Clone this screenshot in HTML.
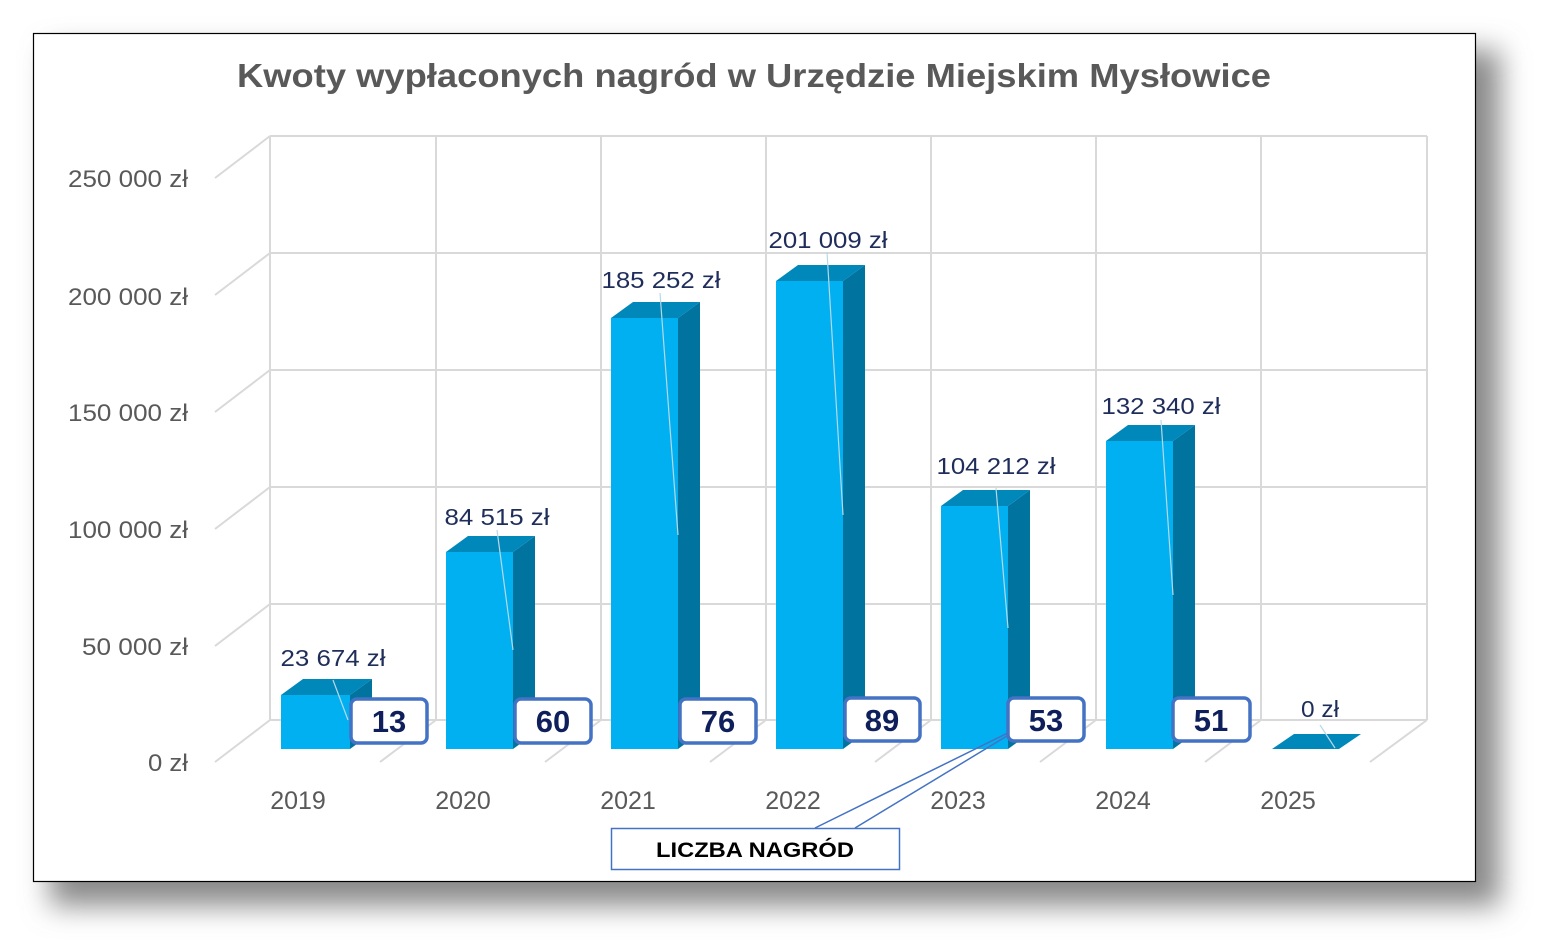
<!DOCTYPE html>
<html><head><meta charset="utf-8"><style>html,body{margin:0;padding:0;background:#fff;}svg{display:block}</style></head>
<body>
<svg width="1542" height="948" viewBox="0 0 1542 948" xmlns="http://www.w3.org/2000/svg" font-family="'Liberation Sans', sans-serif">
<defs>
<filter id="sh" x="-5%" y="-5%" width="115%" height="120%"><feGaussianBlur stdDeviation="14"/></filter>
</defs>
<rect x="50" y="50" width="1450" height="856" fill="#8a8a8a" filter="url(#sh)"/>
<rect x="33.5" y="33.5" width="1442" height="848" fill="#fff" stroke="#000" stroke-width="1.2"/>
<text x="754" y="87" text-anchor="middle" font-size="33" font-weight="bold" fill="#595959" textLength="1034" lengthAdjust="spacingAndGlyphs">Kwoty wypłaconych nagród w Urzędzie Miejskim Mysłowice</text>
<g stroke="#d9d9d9" stroke-width="2" fill="none">
<path d="M270 136H1427M270 253H1427M270 370H1427M270 487H1427M270 604H1427M270 720H1427"/>
<path d="M270 136V720M436 136V720M601 136V720M766 136V720M931 136V720M1096 136V720M1261 136V720M1427 136V720"/>
<path d="M270 136L215 178M270 253L215 295M270 370L215 412M270 487L215 529M270 604L215 646M270 720L215 762"/>
<path d="M436 720L380 762M601 720L545 762M766 720L710 762M931 720L875 762M1096 720L1040 762M1261 720L1205 762M1427 720L1370 762"/>
</g>
<g font-size="24" fill="#595959" text-anchor="end">
<text x="188" y="187" textLength="120" lengthAdjust="spacingAndGlyphs">250 000 zł</text><text x="188" y="305" textLength="120" lengthAdjust="spacingAndGlyphs">200 000 zł</text><text x="188" y="421" textLength="120" lengthAdjust="spacingAndGlyphs">150 000 zł</text>
<text x="188" y="538" textLength="120" lengthAdjust="spacingAndGlyphs">100 000 zł</text><text x="188" y="655" textLength="106" lengthAdjust="spacingAndGlyphs">50 000 zł</text><text x="188" y="771" textLength="40" lengthAdjust="spacingAndGlyphs">0 zł</text>
</g>
<g font-size="25" fill="#595959" text-anchor="middle">
<text x="298" y="809">2019</text><text x="463" y="809">2020</text><text x="628" y="809">2021</text><text x="793" y="809">2022</text><text x="958" y="809">2023</text><text x="1123" y="809">2024</text><text x="1288" y="809">2025</text>
</g>
<g>
<g><polygon points="350,695 372,679 372,733 350,749" fill="#00739f"/><polygon points="281,695 350,695 372,679 303,679" fill="#0088bb"/><rect x="281" y="695" width="69" height="54" fill="#00b0f0"/></g>
<g><polygon points="513,552 535,536 535,733 513,749" fill="#00739f"/><polygon points="446,552 513,552 535,536 468,536" fill="#0088bb"/><rect x="446" y="552" width="67" height="197" fill="#00b0f0"/></g>
<g><polygon points="678,318 700,302 700,733 678,749" fill="#00739f"/><polygon points="611,318 678,318 700,302 633,302" fill="#0088bb"/><rect x="611" y="318" width="67" height="431" fill="#00b0f0"/></g>
<g><polygon points="843,281 865,265 865,733 843,749" fill="#00739f"/><polygon points="776,281 843,281 865,265 798,265" fill="#0088bb"/><rect x="776" y="281" width="67" height="468" fill="#00b0f0"/></g>
<g><polygon points="1008,506 1030,490 1030,733 1008,749" fill="#00739f"/><polygon points="941,506 1008,506 1030,490 963,490" fill="#0088bb"/><rect x="941" y="506" width="67" height="243" fill="#00b0f0"/></g>
<g><polygon points="1173,441 1195,425 1195,733 1173,749" fill="#00739f"/><polygon points="1106,441 1173,441 1195,425 1128,425" fill="#0088bb"/><rect x="1106" y="441" width="67" height="308" fill="#00b0f0"/></g>
<polygon points="1272,749 1339,749 1361,734 1294,734" fill="#0088bb"/>
</g>
<g stroke="#b8d8e8" stroke-width="1.2">
<path d="M333 680L348 720M497 530L513 650M660 293L678 535M827 252L843 515M996 488L1008 628M1161 420L1173 595M1320 725L1335 748"/>
</g>
<g font-size="23" fill="#1f2d5a" text-anchor="middle">
<text x="333" y="666" textLength="105" lengthAdjust="spacingAndGlyphs">23 674 zł</text>
<text x="497" y="525" textLength="105" lengthAdjust="spacingAndGlyphs">84 515 zł</text>
<text x="661" y="288" textLength="119" lengthAdjust="spacingAndGlyphs">185 252 zł</text>
<text x="828" y="248" textLength="119" lengthAdjust="spacingAndGlyphs">201 009 zł</text>
<text x="996" y="474" textLength="119" lengthAdjust="spacingAndGlyphs">104 212 zł</text>
<text x="1161" y="414" textLength="119" lengthAdjust="spacingAndGlyphs">132 340 zł</text>
<text x="1320" y="717" textLength="38" lengthAdjust="spacingAndGlyphs">0 zł</text>
</g>
<g stroke="#4472c4" stroke-width="1.5" fill="none"><path d="M1030 722L815 828M1030 722L855 828"/></g>
<g fill="#fff" stroke="#4472c4" stroke-width="3.5">
<rect x="351" y="699" width="76" height="44" rx="6"/><rect x="515" y="699" width="76" height="44" rx="6"/>
<rect x="680" y="699" width="76" height="44" rx="6"/><rect x="845" y="698" width="75" height="43" rx="6"/>
<rect x="1008" y="698" width="76" height="43" rx="6"/><rect x="1173" y="698" width="77" height="43" rx="6"/>
</g>
<g font-size="31" font-weight="bold" fill="#0f1f5c" text-anchor="middle">
<text x="389" y="732">13</text><text x="553" y="732">60</text><text x="718" y="732">76</text><text x="882" y="731">89</text><text x="1046" y="731">53</text><text x="1211" y="731">51</text>
</g>
<rect x="611.5" y="828.5" width="288" height="41" fill="#fff" stroke="#4472c4" stroke-width="1.5"/>
<text x="755" y="857" text-anchor="middle" font-size="21" font-weight="bold" fill="#000" textLength="198" lengthAdjust="spacingAndGlyphs">LICZBA NAGRÓD</text>
</svg>
</body></html>
